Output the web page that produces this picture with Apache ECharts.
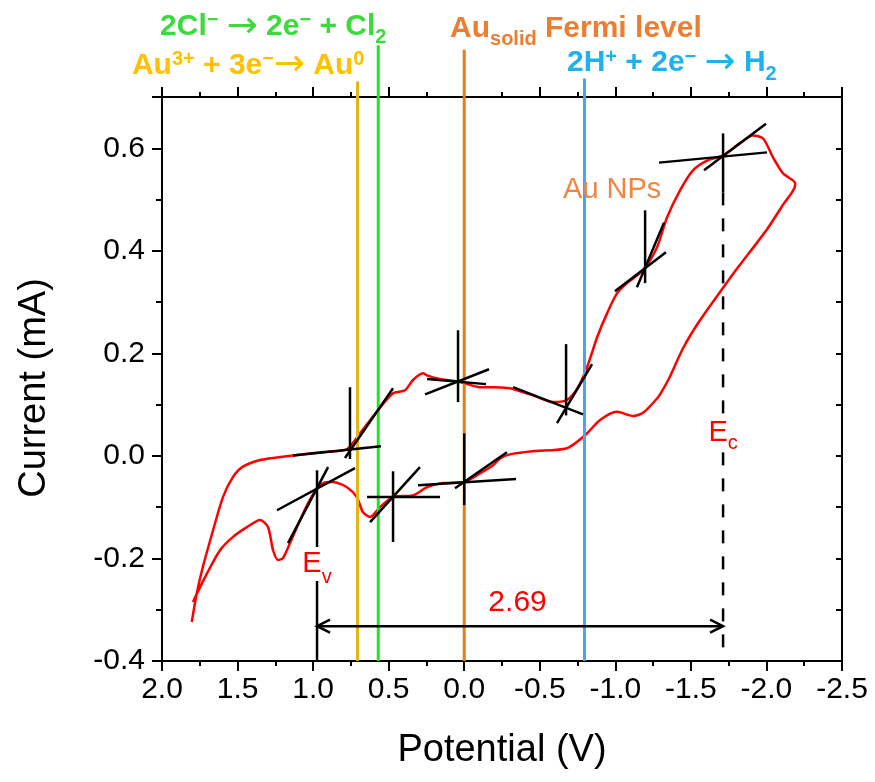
<!DOCTYPE html>
<html>
<head>
<meta charset="utf-8">
<script src="https://cdn.jsdelivr.net/npm/echarts@6/dist/echarts.min.js"></script>
<style>
html,body{margin:0;padding:0;background:#fff;}
#chart{width:875px;height:782px;}
</style>
</head>
<body>
<div id="chart"></div>
<script>
// ---------------- data ----------------
// forward scan (upper branch), potential in V, current in mA
const fwdV = [1.803,1.770,1.729,1.662,1.596,1.530,1.464,1.351,1.241,1.133,0.910,0.778,0.690,0.579,0.471,0.392,0.339,0.273,0.246,0.180,0.028,-0.104,-0.191,-0.303,-0.349,-0.455,-0.588,-0.680,-0.746,-0.813,-0.879,-0.945,-1.011,-1.077,-1.183,-1.276,-1.342,-1.428,-1.514,-1.607,-1.713,-1.825,-1.911,-1.978,-2.044,-2.110,-2.190];
const fwdI = [-0.324,-0.268,-0.216,-0.145,-0.080,-0.041,-0.021,-0.008,-0.003,0.001,0.008,0.013,0.044,0.086,0.122,0.128,0.148,0.161,0.157,0.151,0.144,0.134,0.134,0.132,0.128,0.118,0.105,0.109,0.130,0.173,0.231,0.278,0.317,0.337,0.362,0.407,0.465,0.518,0.557,0.576,0.586,0.610,0.625,0.619,0.582,0.551,0.532];
// reverse scan (lower branch)
const revV = [-2.190,-2.110,-2.004,-1.891,-1.779,-1.713,-1.561,-1.448,-1.362,-1.310,-1.276,-1.183,-1.117,-1.011,-0.899,-0.799,-0.680,-0.455,-0.303,-0.237,-0.191,-0.104,0.001,0.140,0.246,0.339,0.471,0.557,0.623,0.670,0.710,0.776,0.868,0.934,0.974,1.040,1.107,1.153,1.199,1.232,1.265,1.298,1.351,1.438,1.530,1.616,1.702,1.768,1.795];
const revI = [0.528,0.490,0.442,0.398,0.355,0.328,0.265,0.210,0.155,0.127,0.112,0.084,0.078,0.086,0.070,0.040,0.015,0.009,0.003,-0.005,-0.018,-0.034,-0.051,-0.053,-0.061,-0.077,-0.080,-0.100,-0.119,-0.110,-0.081,-0.061,-0.051,-0.053,-0.063,-0.096,-0.139,-0.170,-0.199,-0.203,-0.184,-0.139,-0.125,-0.139,-0.158,-0.184,-0.229,-0.268,-0.285];

// tangent construction segments: start V, start I, end V, end I
const tanV1 = [0.756,1.133,0.789, 1.239,1.166,0.974, 0.471,0.643,0.623, 0.000,0.306,0.061, 0.041,0.246,0.259, -0.674,-0.323,-0.614, -1.197,-0.997,-1.143, -1.713,-1.289,-1.587];
const tanI1 = [0.134,0.001,-0.004, -0.106,-0.170,-0.028, -0.030,-0.080,-0.129, 0.044,-0.057,-0.063, 0.245,0.150,0.120, 0.218,0.134,0.064, 0.479,0.321,0.329, 0.629,0.572,0.557];
const tanV2 = [0.756,0.551,0.471, 0.723,0.901,0.974, 0.471,0.160,0.293, 0.000,-0.343,-0.283, 0.041,-0.144,-0.164, -0.674,-0.786,-0.846, -1.197,-1.335,-1.322, -1.713,-2.004,-1.997];
const tanI2 = [-0.006,0.019,0.132, -0.024,-0.022,-0.400, -0.168,-0.080,-0.022, -0.096,-0.045,0.007, 0.105,0.140,0.169, 0.079,0.081,0.179, 0.337,0.397,0.455, 0.514,0.592,0.648];

// conduction band edge (dashed) and band gap arrow
const ecV = -1.713;
const ecTopI = 0.514;
const gapArrow = [0.974, -0.332, -1.713, -0.332];

// reference potentials (vertical lines) and their upper ends
const refV = [0.706, 0.569, 0.000, -0.796];
const refTopI = [0.730, 0.801, 0.792, 0.736];

// annotation anchors (data coordinates)
const noteV = [2.013, 2.199, 0.094, -0.680, -0.654, -0.353, 0.974, -1.713];
const noteI = [0.8366, 0.7615, 0.8336, 0.7663, 0.5177, -0.287, -0.2108, 0.0456];

// axis ranges / ticks
const xMin = -2.5, xMax = 2.0, xStep = 0.5;
const yMin = -0.4, yMax = 0.7, yStep = 0.2;

// ---------------- styles ----------------
const FONT = "'Liberation Sans', Arial, Helvetica, sans-serif";
const refColors = ['#E3B514', '#1EE61E', '#EC7A12', '#4DA3F2'];

function headRich(color) {
  return {
    m:   {fontSize: 30, fontWeight: 'bold', fontFamily: FONT, fill: color, lineHeight: 50},
    ar:  {fontSize: 37, fontFamily: "'DejaVu Sans', sans-serif", fill: color, lineHeight: 40},
    sup: {fontSize: 20, fontWeight: 'bold', fontFamily: FONT, fill: color, lineHeight: 20, verticalAlign: 'top', padding: [9, 0, 0, 0]},
    sub: {fontSize: 20, fontWeight: 'bold', fontFamily: FONT, fill: color, lineHeight: 20, verticalAlign: 'top', padding: [26, 0, 0, 0]}
  };
}
function eRich(color, subOffset) {
  return {
    m:   {fontSize: 29, fontFamily: FONT, fill: color, lineHeight: 34},
    sub: {fontSize: 20, fontFamily: FONT, fill: color, lineHeight: 20, verticalAlign: 'top', padding: [subOffset, 0, 0, 0]}
  };
}
const noteStyles = [
  {text: '{m|2Cl}{sup|\u2212}{m| }{ar|\u2192}{m| 2e}{sup|\u2212}{m| + Cl}{sub|2}', rich: headRich('#3BDB3B'), align: 'left'},
  {text: '{m|Au}{sup|3+}{m| + 3e}{sup|\u2212}{ar|\u2192}{m| Au}{sup|0}', rich: headRich('#FFC000'), align: 'left'},
  {text: '{m|Au}{sub|solid}{m| Fermi level}', rich: headRich('#ED7D31'), align: 'left'},
  {text: '{m|2H}{sup|+}{m| + 2e}{sup|\u2212}{m| }{ar|\u2192}{m| H}{sub|2}', rich: headRich('#1FB0EE'), align: 'left'},
  {text: 'Au NPs', fill: '#EF8644', fontSize: 29, fontFamily: FONT, align: 'left'},
  {text: '2.69', fill: '#FF0000', fontSize: 30, fontFamily: FONT, align: 'center'},
  {text: '{m|E}{sub|v}', rich: eRich('#FF0000', 20), align: 'center', backgroundColor: '#fff'},
  {text: '{m|E}{sub|c}', rich: eRich('#FF0000', 18), align: 'center', backgroundColor: '#fff'}
];

// ---------------- build ----------------
const curveData = fwdV.map((v, k) => [v, fwdI[k]]).concat(revV.map((v, k) => [v, revI[k]]));
const tangentData = tanV1.map((v, k) => [v, tanI1[k], tanV2[k], tanI2[k]]);
const noteData = noteV.map((v, k) => [v, noteI[k]]);

const axisLineStyle = {color: '#000', width: 2};
const labelFmt = v => (Math.abs(v) < 1e-9 ? 0 : v).toFixed(1);

const refSeries = refV.map((v, k) => ({
  type: 'line', name: 'ref' + k, data: [[v, yMin], [v, refTopI[k]]],
  symbol: 'none', clip: false, silent: true, z: 3,
  lineStyle: {color: refColors[k], width: 3}
}));

const option = {
  animation: false,
  backgroundColor: '#fff',
  grid: {left: 162, right: 33, top: 97, bottom: 121, containLabel: false, outerBoundsMode: 'none'},
  xAxis: [
    {
      type: 'value', min: xMin, max: xMax, interval: xStep, inverse: true, position: 'bottom',
      name: 'Potential (V)', nameLocation: 'middle', nameGap: 71,
      nameTextStyle: {fontSize: 38, fontFamily: FONT, color: '#000'},
      axisLine: {onZero: false, lineStyle: axisLineStyle},
      axisTick: {length: 10, lineStyle: {color: '#000', width: 2}},
      minorTick: {show: true, splitNumber: 2, length: 5, lineStyle: {color: '#000', width: 2}},
      axisLabel: {fontSize: 30, fontFamily: FONT, color: '#000', margin: 14, formatter: labelFmt},
      splitLine: {show: false}, minorSplitLine: {show: false}
    },
    {
      type: 'value', min: xMin, max: xMax, interval: xStep, inverse: true, position: 'top',
      axisLine: {onZero: false, lineStyle: axisLineStyle},
      axisTick: {length: 10, lineStyle: {color: '#000', width: 2}},
      minorTick: {show: true, splitNumber: 2, length: 5, lineStyle: {color: '#000', width: 2}},
      axisLabel: {show: false}, splitLine: {show: false}
    }
  ],
  yAxis: [
    {
      type: 'value', min: yMin, max: yMax, interval: yStep, position: 'left',
      name: 'Current (mA)', nameLocation: 'middle', nameGap: 108, nameRotate: 90,
      nameTextStyle: {fontSize: 38, fontFamily: FONT, color: '#000', padding: [0, 18, 0, 0]},
      axisLine: {onZero: false, lineStyle: axisLineStyle},
      axisTick: {length: 10, lineStyle: {color: '#000', width: 2}},
      minorTick: {show: true, splitNumber: 2, length: 6, lineStyle: {color: '#000', width: 2}},
      axisLabel: {fontSize: 30, fontFamily: FONT, color: '#000', margin: 17, formatter: labelFmt, showMaxLabel: false},
      splitLine: {show: false}
    },
    {
      type: 'value', min: yMin, max: yMax, interval: 0.1, position: 'right',
      axisLine: {onZero: false, lineStyle: axisLineStyle},
      axisTick: {inside: true, length: 6, lineStyle: {color: '#000', width: 2}},
      axisLabel: {show: false}, splitLine: {show: false}
    }
  ],
  series: [
    {
      type: 'line', name: 'CV', data: curveData, symbol: 'none', smooth: 0.25, z: 2,
      lineStyle: {color: '#FF0000', width: 2.5}
    },
    ...refSeries,
    {
      type: 'line', name: 'Ec', data: [[ecV, ecTopI], [ecV, yMin]], symbol: 'none', z: 4, silent: true,
      lineStyle: {color: '#000', width: 2.5, type: [13, 13]}
    },
    {
      type: 'custom', name: 'tangents', coordinateSystem: 'cartesian2d', clip: false, z: 5, silent: true,
      dimensions: ['v1', 'i1', 'v2', 'i2'], encode: {x: [0, 2], y: [1, 3]},
      data: tangentData,
      renderItem: (p, api) => {
        const a = api.coord([api.value(0), api.value(1)]);
        const b = api.coord([api.value(2), api.value(3)]);
        return {type: 'line', shape: {x1: a[0], y1: a[1], x2: b[0], y2: b[1]},
                style: {stroke: '#000', lineWidth: 2.5}};
      }
    },
    {
      type: 'custom', name: 'gap', coordinateSystem: 'cartesian2d', clip: false, z: 5, silent: true,
      dimensions: ['v1', 'i1', 'v2', 'i2'], encode: {x: [0, 2], y: [1, 3]},
      data: [gapArrow],
      renderItem: (p, api) => {
        const a = api.coord([api.value(0), api.value(1)]);
        const b = api.coord([api.value(2), api.value(3)]);
        const dx = b[0] - a[0], dy = b[1] - a[1], len = Math.hypot(dx, dy);
        const ux = dx / len, uy = dy / len, nx = -uy, ny = ux, L = 13, W = 6.5;
        const st = {stroke: '#000', lineWidth: 2.5, fill: null};
        return {type: 'group', children: [
          {type: 'line', shape: {x1: a[0], y1: a[1], x2: b[0], y2: b[1]}, style: st},
          {type: 'polyline', shape: {points: [[a[0] + ux * L + nx * W, a[1] + uy * L + ny * W], a, [a[0] + ux * L - nx * W, a[1] + uy * L - ny * W]]}, style: st},
          {type: 'polyline', shape: {points: [[b[0] - ux * L + nx * W, b[1] - uy * L + ny * W], b, [b[0] - ux * L - nx * W, b[1] - uy * L - ny * W]]}, style: st}
        ]};
      }
    },
    {
      type: 'custom', name: 'notes', coordinateSystem: 'cartesian2d', clip: false, z: 7, silent: true,
      encode: {x: 0, y: 1},
      data: noteData,
      renderItem: (p, api) => {
        const c = api.coord([api.value(0), api.value(1)]);
        const s = noteStyles[p.dataIndex];
        const style = Object.assign({verticalAlign: 'middle'}, s);
        return {type: 'text', x: c[0], y: c[1], style: style};
      }
    }
  ]
};

const chart = echarts.init(document.getElementById('chart'), null, {renderer: 'canvas'});
chart.setOption(option);
</script>
</body>
</html>
